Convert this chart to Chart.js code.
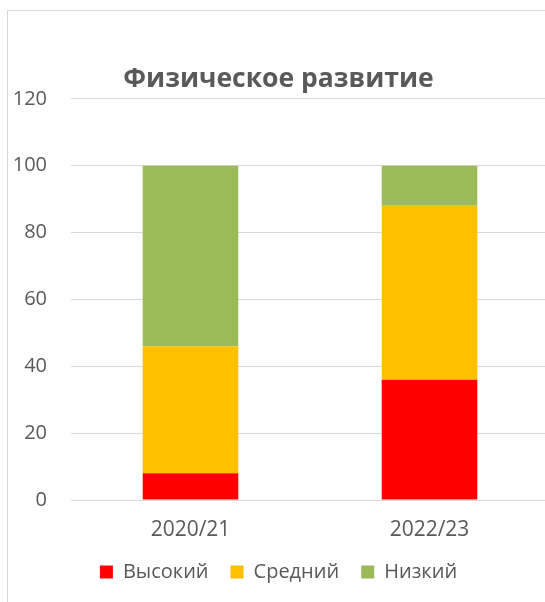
<!DOCTYPE html>
<html>
<head>
<meta charset="utf-8">
<script src="https://cdn.jsdelivr.net/npm/chart.js@4"></script>
<style>
  html, body { margin: 0; padding: 0; background: #fff; overflow: hidden; }
  #frame {
    position: absolute; left: 7px; top: 10px;
    width: 560px; height: 600px;
    border-left: 1px solid #d9d9d9; border-top: 1px solid #d9d9d9;
  }
  #wrap { position: absolute; left: 0; top: 0; width: 541px; height: 591px; }
</style>
</head>
<body>
<div id="frame"><div id="wrap"><canvas id="chartFizo"></canvas></div></div>
<script>
const categorias = ['2020/21', '2022/23'];
const vysokiy = [8, 36];
const sredniy = [38, 52];
const nizkiy = [54, 12];
const ticksY = [0, 20, 40, 60, 80, 100, 120];

const fuente = '"Open Sans", sans-serif';
const gris = '#595959';

Chart.defaults.maintainAspectRatio = false;
Chart.defaults.responsive = true;
Chart.defaults.animation = false;

new Chart(document.getElementById('chartFizo'), {
  type: 'bar',
  data: {
    labels: categorias,
    datasets: [
      { label: 'Высокий', data: vysokiy, backgroundColor: '#ff0000' },
      { label: 'Средний', data: sredniy, backgroundColor: '#ffc000' },
      { label: 'Низкий', data: nizkiy, backgroundColor: '#9bbb59' }
    ]
  },
  options: {
    categoryPercentage: 0.4,
    barPercentage: 1,
    layout: { padding: { left: 0, right: 0, top: 0, bottom: 10 } },
    plugins: {
      title: {
        display: true,
        text: 'Физическое развитие',
        color: gris,
        font: { family: fuente, size: 26.5, weight: 'bold' },
        padding: { top: 53, bottom: 3 }
      },
      legend: {
        position: 'bottom',
        labels: {
          color: gris,
          font: { family: fuente, size: 20 },
          boxWidth: 13,
          boxHeight: 13,
          padding: 22
        }
      },
      tooltip: { enabled: false }
    },
    scales: {
      x: {
        stacked: true,
        grid: { display: false, drawTicks: false },
        border: { display: false },
        ticks: { color: gris, font: { family: fuente, size: 21 }, padding: 17 },
        afterFit: s => { s.height = 40; }
      },
      y: {
        stacked: true,
        min: 0,
        max: 120,
        afterBuildTicks: s => { s.ticks = ticksY.map(v => ({ value: v })); },
        grid: { color: '#d9d9d9', lineWidth: 1, drawTicks: false },
        border: { display: false },
        ticks: { color: gris, font: { family: fuente, size: 20 }, padding: 24 },
        afterFit: s => { s.width = 63; }
      }
    }
  }
});
</script>
</body>
</html>
